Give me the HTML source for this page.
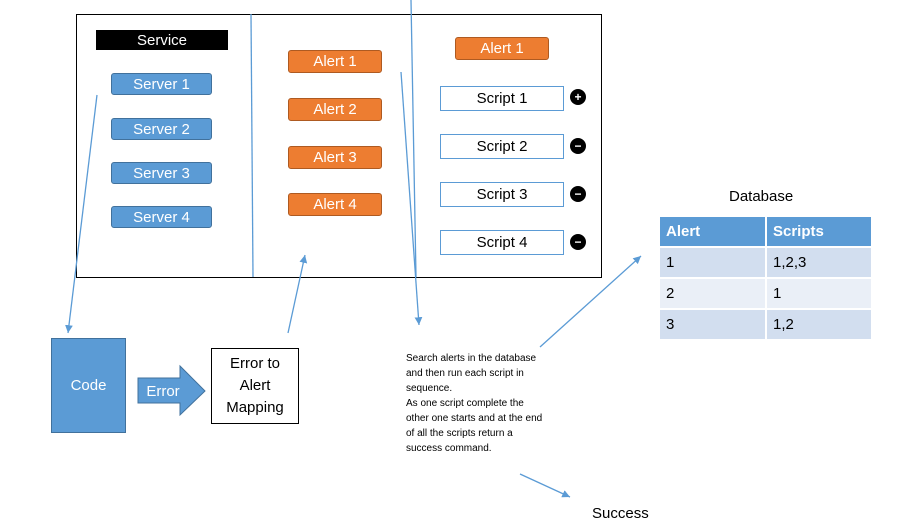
<!DOCTYPE html>
<html><head><style>
body{margin:0;width:919px;height:531px;background:#fff;position:relative;overflow:hidden;font-family:"Liberation Sans",sans-serif}
.a{position:absolute;box-sizing:border-box;display:flex;align-items:center;justify-content:center}
.srv{background:#5b9bd5;border:1px solid #41719c;border-radius:3px;color:#fff;font-size:15px;width:101px;height:22px;left:111px}
.al{background:#ed7d31;border:1px solid #ae5a21;border-radius:3px;color:#fff;font-size:15px;width:94px;height:23px}
.sc{border:1.5px solid #5b9bd5;background:#fff;font-size:15px;width:124px;height:25px;left:440px}
.c{width:16px;height:16px;border-radius:50%;background:#000;color:#fff;font-size:12px;font-weight:bold;left:570px;line-height:16px}
td{padding:0 6px;font-size:15px;height:29px;border:2px solid #fff}
</style></head><body>
<div class="a" style="left:76px;top:14px;width:526px;height:264px;border:1.5px solid #000"></div>
<div class="a" style="left:96px;top:30px;width:132px;height:20px;background:#000;color:#fff;font-size:15px">Service</div>
<div class="a srv" style="top:73px">Server 1</div>
<div class="a srv" style="top:118px">Server 2</div>
<div class="a srv" style="top:162px">Server 3</div>
<div class="a srv" style="top:206px">Server 4</div>
<div class="a al" style="left:288px;top:50px">Alert 1</div>
<div class="a al" style="left:288px;top:98px">Alert 2</div>
<div class="a al" style="left:288px;top:146px">Alert 3</div>
<div class="a al" style="left:288px;top:193px">Alert 4</div>
<div class="a al" style="left:455px;top:37px">Alert 1</div>
<div class="a sc" style="top:86px">Script 1</div>
<div class="a sc" style="top:134px">Script 2</div>
<div class="a sc" style="top:182px">Script 3</div>
<div class="a sc" style="top:230px">Script 4</div>
<div class="a c" style="top:89px">+</div>
<div class="a c" style="top:138px">−</div>
<div class="a c" style="top:186px">−</div>
<div class="a c" style="top:234px">−</div>
<div class="a" style="left:51px;top:338px;width:75px;height:95px;background:#5b9bd5;border:1px solid #41719c;color:#fff;font-size:15px">Code</div>
<svg style="position:absolute;left:0;top:0" width="919" height="531">
<defs><marker id="m" markerWidth="8" markerHeight="8" refX="6" refY="3" orient="auto"><path d="M0,0L6,3L0,6z" fill="#5b9bd5"/></marker></defs>
<g stroke="#5b9bd5" stroke-width="1.3" fill="none">
<line x1="251" y1="14" x2="253" y2="277"/>
<line x1="411" y1="0" x2="416" y2="277"/>
<line x1="97" y1="95" x2="68" y2="333" marker-end="url(#m)"/>
<line x1="288" y1="333" x2="305" y2="255" marker-end="url(#m)"/>
<line x1="401" y1="72" x2="419" y2="325" marker-end="url(#m)"/>
<line x1="540" y1="347" x2="641" y2="256" marker-end="url(#m)"/>
<line x1="520" y1="474" x2="570" y2="497" marker-end="url(#m)"/>
</g>
<path d="M138,378H180V366L205,391L180,415V403H138Z" fill="#5b9bd5" stroke="#41719c"/>
<text x="163" y="396" fill="#fff" font-size="15" text-anchor="middle" font-family="Liberation Sans">Error</text>
</svg>
<div class="a" style="left:211px;top:348px;width:88px;height:76px;border:1.5px solid #000;font-size:15px;text-align:center;line-height:22px">Error to<br>Alert<br>Mapping</div>
<div style="position:absolute;left:406px;top:351px;font-size:10px;line-height:15px;white-space:nowrap">Search alerts in the database<br>and then run each script in<br>sequence.<br>As one script complete the<br>other one starts and at the end<br>of all the scripts return a<br>success command.</div>
<div style="position:absolute;left:729px;top:188px;font-size:15px">Database</div>
<table style="position:absolute;left:658px;top:215px;border-collapse:collapse;width:215px">
<tr style="background:#5b9bd5;color:#fff;font-weight:bold"><td style="width:93px">Alert</td><td>Scripts</td></tr>
<tr style="background:#d2deef"><td>1</td><td>1,2,3</td></tr>
<tr style="background:#eaeff7"><td>2</td><td>1</td></tr>
<tr style="background:#d2deef"><td>3</td><td>1,2</td></tr>
</table>
<div style="position:absolute;left:592px;top:505px;font-size:15px">Success</div>
</body></html>
